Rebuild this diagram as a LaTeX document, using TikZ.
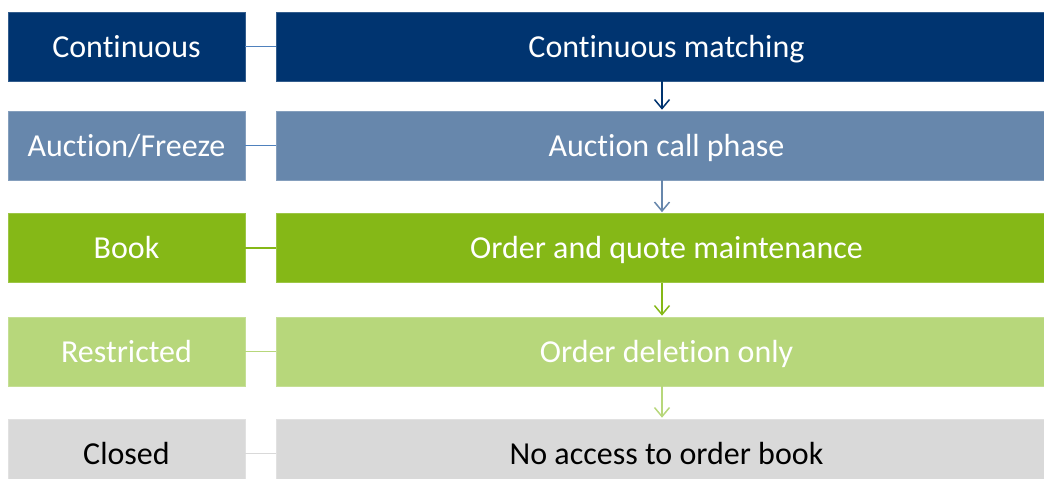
\documentclass[tikz,border=0pt]{standalone}
\usepackage{fontspec}
\setmainfont{Carlito}[Ligatures=NoCommon]
\usetikzlibrary{arrows.meta}
\definecolor{cA}{HTML}{003470}
\definecolor{cB}{HTML}{6787AC}
\definecolor{cC}{HTML}{85B817}
\definecolor{cD}{HTML}{B7D77B}
\definecolor{cE}{HTML}{D9D9D9}
\definecolor{lnA}{HTML}{4F81BD}
\definecolor{lnB}{HTML}{4F81BD}
\begin{document}
\begin{tikzpicture}[x=1pt,y=-1pt,
  boxbase/.style={minimum height=69pt,inner sep=0pt,text height=21pt,text depth=0pt,font=\fontsize{32}{38}\selectfont,draw=#1!80!white,line width=0.6pt,fill=#1},
  lbox/.style={boxbase=#1,minimum width=237pt},
  rbox/.style={boxbase=#1,minimum width=781pt},
  link/.style={draw=#1,line width=1.2pt},
  flow/.style={draw=#1,line width=1.5pt,-{Straight Barb[length=9pt,width=15pt,line width=1.5pt]},shorten >=1pt}]
\useasboundingbox (0,0) rectangle (1044,479);
\clip (0,0) rectangle (1044,479);
\node[lbox=cA,text=white] (l1) at (126.5,46.5) {Continuous};
\node[rbox=cA,text=white] (r1) at (666.5,46.5) {Continuous matching};
\node[lbox=cB,text=white] (l2) at (126.5,145.5) {Auction/Freeze};
\node[rbox=cB,text=white] (r2) at (666.5,145.5) {Auction call phase};
\node[lbox=cC,text=white] (l3) at (126.5,248) {Book};
\node[rbox=cC,text=white] (r3) at (666.5,248) {Order and quote maintenance};
\node[lbox=cD,text=white] (l4) at (126.5,351.5) {Restricted};
\node[rbox=cD,text=white] (r4) at (666.5,351.5) {Order deletion only};
\node[lbox=cE,text=black] (l5) at (126.5,453.5) {Closed};
\node[rbox=cE,text=black] (r5) at (666.5,453.5) {No access to order book};
\draw[link=lnA] (l1) -- (r1);
\draw[link=lnB] (l2) -- (r2);
\draw[link=cC] (l3) -- (r3);
\draw[link=cD] (l4) -- (r4);
\draw[link=cE] (l5) -- (r5);
\coordinate (ax) at (662,0);
\draw[flow=cA] (r1.south -| ax) -- (r2.north -| ax);
\draw[flow=cB] (r2.south -| ax) -- (r3.north -| ax);
\draw[flow=cC] (r3.south -| ax) -- (r4.north -| ax);
\draw[flow=cD] (r4.south -| ax) -- (r5.north -| ax);
\end{tikzpicture}
\end{document}
